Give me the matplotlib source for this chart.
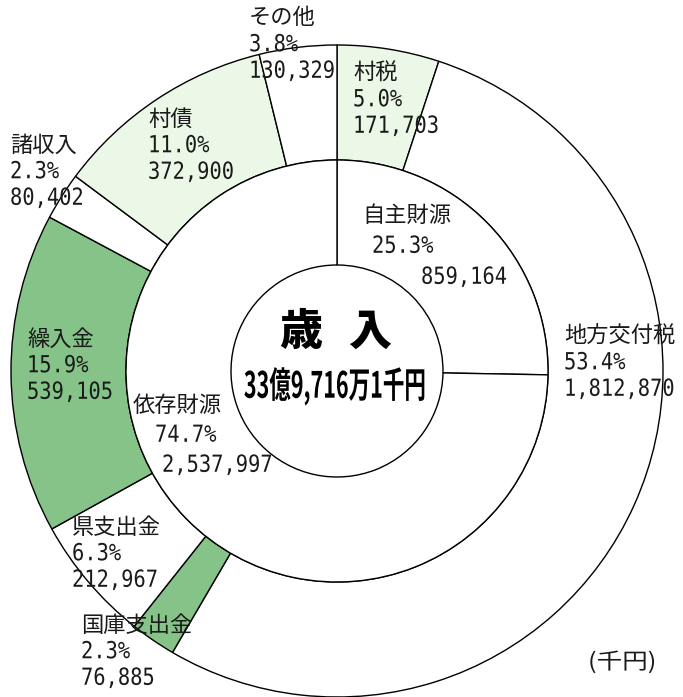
import matplotlib
matplotlib.use("Agg")
import matplotlib.pyplot as plt
from matplotlib.patheffects import AbstractPathEffect
from matplotlib.transforms import Affine2D

plt.rcParams['font.family'] = ['Noto Sans CJK JP', 'DejaVu Sans']

# ---- data (thousand yen) ----
outer_names = ['村税', '地方交付税', '国庫支出金', '県支出金', '繰入金', '諸収入', '村債', 'その他']
outer_values = [171703, 1812870, 76885, 212967, 539105, 80402, 372900, 130329]
outer_pcts = ['5.0%', '53.4%', '2.3%', '6.3%', '15.9%', '2.3%', '11.0%', '3.8%']
inner_names = ['自主財源', '依存財源']
inner_values = [859164, 2537997]
inner_pcts = ['25.3%', '74.7%']
center_title = ['歳', '入']
center_total = '33億9,716万1千円'
unit_label = '(千円)'

# ---- style ----
LIGHT = '#ebf7e7'
GREEN = '#85c389'
outer_colors = [LIGHT, 'white', GREEN, 'white', GREEN, 'white', LIGHT, 'white']
inner_colors = ['white', 'white']

W, H = 683, 697
fig = plt.figure(figsize=(W / 100, H / 100), dpi=100)
ax = fig.add_axes([0, 0, 1, 1])

cx, cy = 337, H - 371
R_OUT, R_MID, R_IN = 326, 211, 106

ax.pie(outer_values, radius=R_OUT, center=(cx, cy), startangle=90, counterclock=False,
       colors=outer_colors,
       wedgeprops=dict(width=R_OUT - R_MID, edgecolor='black', linewidth=1.0))
ax.pie(inner_values, radius=R_MID, center=(cx, cy), startangle=90, counterclock=False,
       colors=inner_colors,
       wedgeprops=dict(width=R_MID - R_IN, edgecolor='black', linewidth=1.0))

ax.set_xlim(0, W)
ax.set_ylim(0, H)
ax.set_aspect('equal')
ax.axis('off')

FS = 16
FS_NUM = 15
TC = '#1a1a1a'
MONO = ['DejaVu Sans Mono']


class Scale(AbstractPathEffect):
    """Stretch glyphs about an anchor point (data coords)."""

    def __init__(self, sx, sy, xy):
        super().__init__()
        self.sx = sx
        self.sy = sy
        self.xy = xy

    def draw_path(self, renderer, gc, tpath, affine, rgbFace=None):
        px, py = ax.transData.transform(self.xy)
        t = affine + Affine2D().translate(-px, -py).scale(self.sx, self.sy).translate(px, py)
        renderer.draw_path(gc, tpath, t, rgbFace)


def fmt(v):
    return f'{v:,}'


def put(x, y_top_center, lines, dy=26.5, xs=None):
    for i, line in enumerate(lines):
        xx = x if xs is None else xs[i]
        yy = H - (y_top_center + i * dy)
        if i == 0:
            ax.text(xx, yy, line, color=TC, ha='left', va='center', fontsize=FS)
        else:
            ax.text(xx, yy, line, color=TC, ha='left', va='center',
                    fontsize=FS_NUM, family=MONO,
                    path_effects=[Scale(0.98, 1.13, (xx, yy))])


# outer labels (pixel positions measured from top)
pos = {
    '村税': (353, 73),
    '地方交付税': (564, 336),
    '国庫支出金': (81, 625),
    '県支出金': (72, 527),
    '繰入金': (27, 339),
    '諸収入': (10, 145),
    '村債': (148, 119),
    'その他': (249, 18),
}
for name, val, pct in zip(outer_names, outer_values, outer_pcts):
    x, y = pos[name]
    put(x, y, [name, pct, fmt(val)])

# inner labels
put(0, 215, [inner_names[0], inner_pcts[0], fmt(inner_values[0])], dy=31,
    xs=[362, 372, 421])
put(0, 405, [inner_names[1], inner_pcts[1], fmt(inner_values[1])], dy=30,
    xs=[133, 155, 162])

ax.text(301, H - 332, center_title[0], fontsize=31, fontweight='heavy', color='black',
        ha='center', va='center')
ax.text(370, H - 332, center_title[1], fontsize=31, fontweight='heavy', color='black',
        ha='center', va='center')
ax.text(335, H - 386, center_total, fontsize=15.5, fontweight='bold', color='black',
        ha='center', va='center',
        path_effects=[Scale(1.0, 1.68, (335, H - 386))])

ax.text(588, H - 662, unit_label, fontsize=FS, color=TC, ha='left', va='center',
        path_effects=[Scale(1.15, 1.0, (588, H - 662))])

fig.savefig('out.png', dpi=100)
